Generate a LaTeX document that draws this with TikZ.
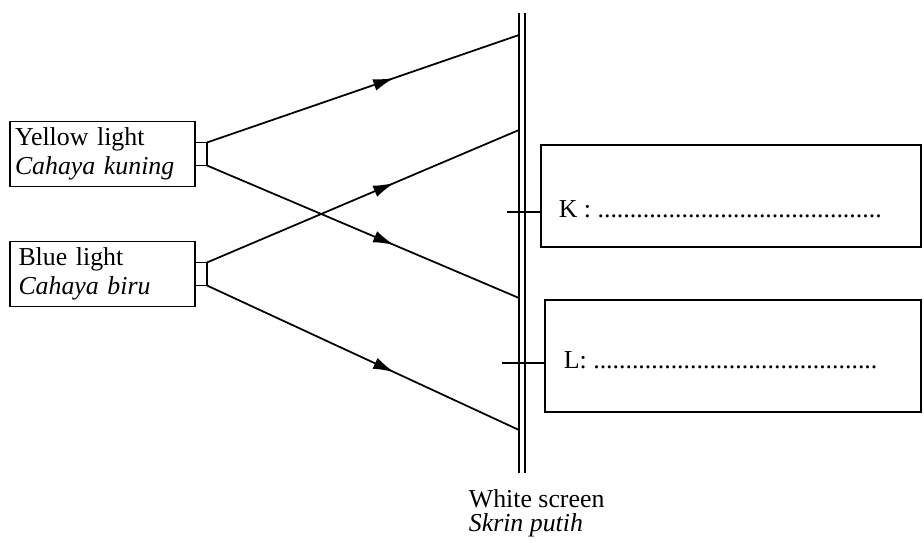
\documentclass[tikz,border=0pt]{standalone}
\usepackage{fontspec}
\setmainfont{Liberation Serif}
\usetikzlibrary{arrows.meta,positioning,decorations.markings}

\begin{document}
\begin{tikzpicture}[x=0.02cm,y=-0.02cm,line width=1pt,font=\fontsize{14.7}{16.5}\selectfont]
              \tikzstyle{lightbox}=[draw,rectangle,outer sep=0,minimum width=3.7cm,minimum height=1.3cm,
                                    text width=3.5cm,inner xsep=0.1cm,align=left]
              \tikzstyle{lamp}=[draw,rectangle,outer sep=0,minimum width=0.24cm,minimum height=0.46cm,inner sep=0]
              \tikzstyle{answer}=[draw,rectangle,outer sep=0]
              \tikzstyle{ray}=[postaction={decorate},decoration={markings,
                                 mark=at position 0.6 with {\arrow{Latex[length=4.2mm,width=2.4mm]}}}]
              \tikzstyle{tick}=[line width=1.1pt]

              \useasboundingbox (0,0) rectangle (924,543);

              % light sources
              \node[lightbox]      (yellow) at (102.5,154) {Yellow light\\\textit{Cahaya kuning}};
              \node[lightbox,text width=3.36cm,inner xsep=0.17cm]
                                   (blue)   at (102.5,274) {Blue light\\\textit{Cahaya biru}};
              \node[lamp]          (lampY) [right=0pt of yellow] {};
              \node[lamp]          (lampB) [right=0pt of blue]   {};

              % screen
              \coordinate (top) at (519,13);
              \coordinate (bot) at (519,473);
              \draw[line width=1.3pt] (top) -- (bot);
              \draw[line width=1.3pt] ([xshift=0.12cm]top) -- ([xshift=0.12cm]bot);
              \node[anchor=north west,align=left,inner sep=0,font=\fontsize{14.7}{13.6}\selectfont]
                                   (label) at (468,489) {White screen\\\textit{Skrin putih}};

              \coordinate (hitA) at (519,35);
              \coordinate (hitB) at (519,130);
              \coordinate (hitC) at (519,298);
              \coordinate (hitD) at (519,430);

              \draw[ray] (lampY.north east) -- (hitA);
              \draw[ray] (lampY.south east) -- (hitC);
              \draw[ray] (lampB.north east) -- (hitB);
              \draw[ray] (lampB.south east) -- (hitD);

              % answer boxes
              \node[answer,minimum width=7.6cm,minimum height=2.04cm]  (kbox) at (731,196) {};
              \node[answer,minimum width=7.52cm,minimum height=2.24cm] (lbox) at (733,356) {};
              \coordinate (kmark) at (507,212);
              \coordinate (lmark) at (502,363);
              \draw[tick] (kmark) -- (kmark -| kbox.west);
              \draw[tick] (lmark) -- (lmark -| lbox.west);

              \node[anchor=base west,inner sep=0] (ktext) at (558,218)
                   {K : ............................................};
              \node[anchor=base west,inner sep=0] (ltext) at (563,369)
                   {L: ............................................};
\end{tikzpicture}
\end{document}
